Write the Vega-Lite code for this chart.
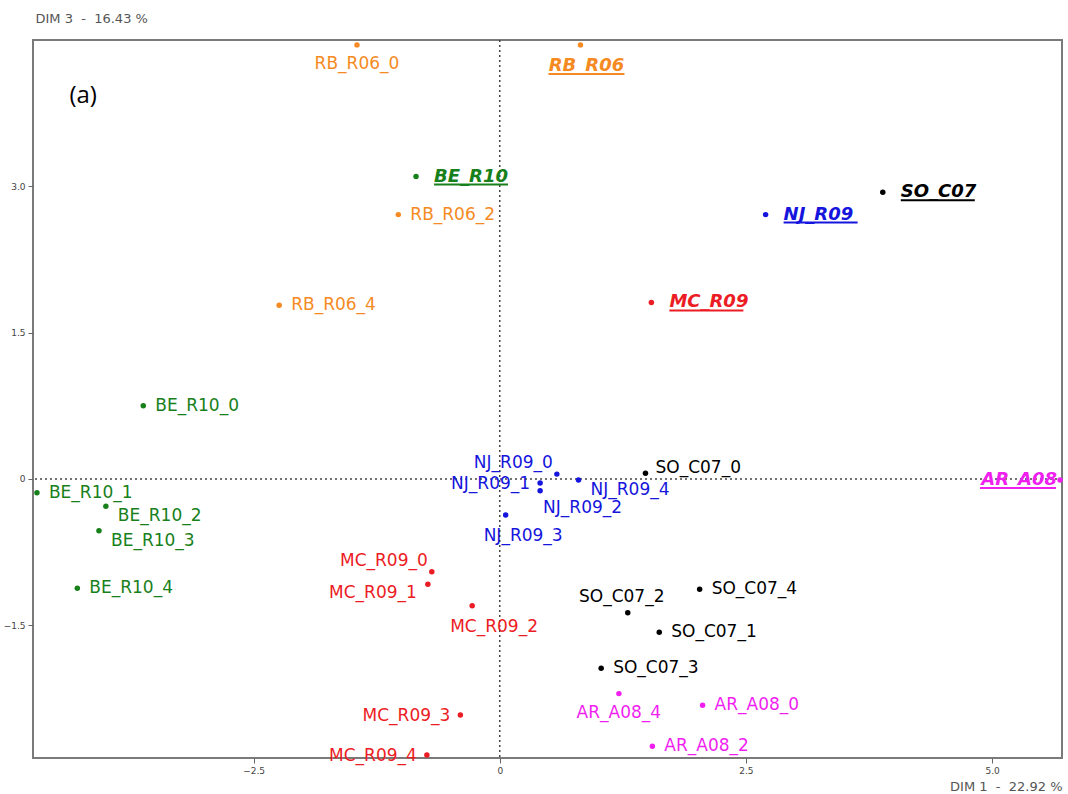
{
  "$schema": "https://vega.github.io/schema/vega-lite/v6.json",
  "width": 1029,
  "height": 718,
  "autosize": "none",
  "padding": {"left": 33, "top": 40, "right": 6, "bottom": 36},
  "background": "white",
  "config": {
    "font": "DejaVu Sans",
    "view": {"stroke": "#7a7a7a", "strokeWidth": 2}
  },
  "datasets": {
    "origin": [{"dim1": 0, "dim3": 0}],
    "panel": [{"label": "(a)", "dim1": -4.37, "dim3": 3.93}]
  },
  "data": {
    "values": [
      {"name": "RB_R06", "group": "RB_R06", "kind": "group", "dim1": 0.82, "dim3": 4.45},
      {"name": "RB_R06_0", "group": "RB_R06", "kind": "sample", "dim1": -1.45, "dim3": 4.45},
      {"name": "RB_R06_2", "group": "RB_R06", "kind": "sample", "dim1": -1.03, "dim3": 2.71},
      {"name": "RB_R06_4", "group": "RB_R06", "kind": "sample", "dim1": -2.24, "dim3": 1.78},
      {"name": "BE_R10", "group": "BE_R10", "kind": "group", "dim1": -0.85, "dim3": 3.10},
      {"name": "BE_R10_0", "group": "BE_R10", "kind": "sample", "dim1": -3.62, "dim3": 0.75},
      {"name": "BE_R10_1", "group": "BE_R10", "kind": "sample", "dim1": -4.70, "dim3": -0.14},
      {"name": "BE_R10_2", "group": "BE_R10", "kind": "sample", "dim1": -4.00, "dim3": -0.28},
      {"name": "BE_R10_3", "group": "BE_R10", "kind": "sample", "dim1": -4.07, "dim3": -0.53},
      {"name": "BE_R10_4", "group": "BE_R10", "kind": "sample", "dim1": -4.29, "dim3": -1.12},
      {"name": "SO_C07", "group": "SO_C07", "kind": "group", "dim1": 3.89, "dim3": 2.94},
      {"name": "SO_C07_0", "group": "SO_C07", "kind": "sample", "dim1": 1.48, "dim3": 0.06},
      {"name": "SO_C07_1", "group": "SO_C07", "kind": "sample", "dim1": 1.62, "dim3": -1.57},
      {"name": "SO_C07_2", "group": "SO_C07", "kind": "sample", "dim1": 1.30, "dim3": -1.37},
      {"name": "SO_C07_3", "group": "SO_C07", "kind": "sample", "dim1": 1.03, "dim3": -1.94},
      {"name": "SO_C07_4", "group": "SO_C07", "kind": "sample", "dim1": 2.03, "dim3": -1.13},
      {"name": "NJ_R09", "group": "NJ_R09", "kind": "group", "dim1": 2.70, "dim3": 2.71},
      {"name": "NJ_R09_0", "group": "NJ_R09", "kind": "sample", "dim1": 0.58, "dim3": 0.05},
      {"name": "NJ_R09_1", "group": "NJ_R09", "kind": "sample", "dim1": 0.41, "dim3": -0.04},
      {"name": "NJ_R09_2", "group": "NJ_R09", "kind": "sample", "dim1": 0.41, "dim3": -0.12},
      {"name": "NJ_R09_3", "group": "NJ_R09", "kind": "sample", "dim1": 0.06, "dim3": -0.37},
      {"name": "NJ_R09_4", "group": "NJ_R09", "kind": "sample", "dim1": 0.80, "dim3": -0.01},
      {"name": "MC_R09", "group": "MC_R09", "kind": "group", "dim1": 1.54, "dim3": 1.81},
      {"name": "MC_R09_0", "group": "MC_R09", "kind": "sample", "dim1": -0.69, "dim3": -0.95},
      {"name": "MC_R09_1", "group": "MC_R09", "kind": "sample", "dim1": -0.73, "dim3": -1.08},
      {"name": "MC_R09_2", "group": "MC_R09", "kind": "sample", "dim1": -0.28, "dim3": -1.30},
      {"name": "MC_R09_3", "group": "MC_R09", "kind": "sample", "dim1": -0.40, "dim3": -2.42},
      {"name": "MC_R09_4", "group": "MC_R09", "kind": "sample", "dim1": -0.74, "dim3": -2.83},
      {"name": "AR_A08", "group": "AR_A08", "kind": "group", "dim1": 5.69, "dim3": -0.01},
      {"name": "AR_A08_0", "group": "AR_A08", "kind": "sample", "dim1": 2.06, "dim3": -2.32},
      {"name": "AR_A08_2", "group": "AR_A08", "kind": "sample", "dim1": 1.55, "dim3": -2.74},
      {"name": "AR_A08_4", "group": "AR_A08", "kind": "sample", "dim1": 1.21, "dim3": -2.20}
    ]
  },
  "layer": [
    {
      "data": {"name": "origin"},
      "mark": {"type": "rule", "color": "#444444", "strokeDash": [2, 3], "strokeWidth": 1.5},
      "encoding": {
        "x": {
          "field": "dim1",
          "type": "quantitative",
          "title": "DIM 1\u00a0 -\u00a0 22.92 %",
          "scale": {"domain": [-4.74, 5.71], "nice": false, "zero": false},
          "axis": {
            "orient": "bottom",
            "values": [-2.5, 0, 2.5, 5],
            "labelExpr": "datum.value === 0 ? '0' : format(datum.value, '.1f')",
            "labelFontSize": 9,
            "labelColor": "#444444",
            "labelPadding": 3,
            "tickColor": "#666666",
            "tickSize": 5,
            "domain": false,
            "grid": false,
            "titleFontSize": 13,
            "titleFontWeight": "normal",
            "titleColor": "#555555",
            "titleAlign": "right",
            "titleBaseline": "alphabetic",
            "titleX": 1029,
            "titleY": 32
          }
        }
      }
    },
    {
      "data": {"name": "origin"},
      "mark": {"type": "rule", "color": "#444444", "strokeDash": [2, 3], "strokeWidth": 1.5},
      "encoding": {
        "y": {
          "field": "dim3",
          "type": "quantitative",
          "title": "DIM 3\u00a0 -\u00a0 16.43 %",
          "scale": {"domain": [-2.86, 4.5], "nice": false, "zero": false},
          "axis": {
            "orient": "left",
            "values": [-1.5, 0, 1.5, 3],
            "labelExpr": "datum.value === 0 ? '0' : format(datum.value, '.1f')",
            "labelFontSize": 9,
            "labelColor": "#444444",
            "labelPadding": 3,
            "tickColor": "#666666",
            "tickSize": 5,
            "domain": false,
            "grid": false,
            "titleFontSize": 13,
            "titleFontWeight": "normal",
            "titleColor": "#555555",
            "titleAngle": 0,
            "titleAlign": "left",
            "titleBaseline": "alphabetic",
            "titleX": 2,
            "titleY": -18
          }
        }
      }
    },
    {
      "mark": {"type": "circle", "size": 30, "opacity": 1},
      "encoding": {
        "x": {"field": "dim1", "type": "quantitative", "title": "DIM 1\u00a0 -\u00a0 22.92 %"},
        "y": {"field": "dim3", "type": "quantitative", "title": "DIM 3\u00a0 -\u00a0 16.43 %"},
        "color": {
          "field": "group",
          "type": "nominal",
          "scale": {
            "domain": ["BE_R10", "RB_R06", "NJ_R09", "MC_R09", "SO_C07", "AR_A08"],
            "range": ["#17801a", "#f58a23", "#1515dd", "#ec1c24", "#000000", "#f01ff0"]
          },
          "legend": null
        }
      }
    },
    {
      "transform": [{"filter": {"field": "name", "oneOf": ["BE_R10_0", "BE_R10_1", "BE_R10_4", "RB_R06_2", "RB_R06_4", "SO_C07_1", "SO_C07_3", "SO_C07_4", "AR_A08_0", "AR_A08_2"]}}],
      "mark": {"type": "text", "align": "left", "baseline": "middle", "dx": 12, "dy": 0, "fontSize": 17},
      "encoding": {
        "x": {"field": "dim1", "type": "quantitative", "title": "DIM 1\u00a0 -\u00a0 22.92 %"},
        "y": {"field": "dim3", "type": "quantitative", "title": "DIM 3\u00a0 -\u00a0 16.43 %"},
        "text": {"field": "name"},
        "color": {"field": "group", "type": "nominal", "legend": null}
      }
    },
    {
      "transform": [{"filter": {"field": "name", "oneOf": ["SO_C07_0"]}}],
      "mark": {"type": "text", "align": "left", "baseline": "middle", "dx": 10, "dy": -5, "fontSize": 17},
      "encoding": {
        "x": {"field": "dim1", "type": "quantitative", "title": "DIM 1\u00a0 -\u00a0 22.92 %"},
        "y": {"field": "dim3", "type": "quantitative", "title": "DIM 3\u00a0 -\u00a0 16.43 %"},
        "text": {"field": "name"},
        "color": {"field": "group", "type": "nominal", "legend": null}
      }
    },
    {
      "transform": [{"filter": {"field": "name", "oneOf": ["BE_R10_2", "BE_R10_3", "NJ_R09_4"]}}],
      "mark": {"type": "text", "align": "left", "baseline": "middle", "dx": 12, "dy": 10, "fontSize": 17},
      "encoding": {
        "x": {"field": "dim1", "type": "quantitative", "title": "DIM 1\u00a0 -\u00a0 22.92 %"},
        "y": {"field": "dim3", "type": "quantitative", "title": "DIM 3\u00a0 -\u00a0 16.43 %"},
        "text": {"field": "name"},
        "color": {"field": "group", "type": "nominal", "legend": null}
      }
    },
    {
      "transform": [{"filter": {"field": "name", "oneOf": ["RB_R06_0", "AR_A08_4"]}}],
      "mark": {"type": "text", "align": "center", "baseline": "middle", "dx": 0, "dy": 19, "fontSize": 17},
      "encoding": {
        "x": {"field": "dim1", "type": "quantitative", "title": "DIM 1\u00a0 -\u00a0 22.92 %"},
        "y": {"field": "dim3", "type": "quantitative", "title": "DIM 3\u00a0 -\u00a0 16.43 %"},
        "text": {"field": "name"},
        "color": {"field": "group", "type": "nominal", "legend": null}
      }
    },
    {
      "transform": [{"filter": {"field": "name", "oneOf": ["NJ_R09_3", "MC_R09_2"]}}],
      "mark": {"type": "text", "align": "left", "baseline": "middle", "dx": -22, "dy": 21, "fontSize": 17},
      "encoding": {
        "x": {"field": "dim1", "type": "quantitative", "title": "DIM 1\u00a0 -\u00a0 22.92 %"},
        "y": {"field": "dim3", "type": "quantitative", "title": "DIM 3\u00a0 -\u00a0 16.43 %"},
        "text": {"field": "name"},
        "color": {"field": "group", "type": "nominal", "legend": null}
      }
    },
    {
      "transform": [{"filter": {"field": "name", "oneOf": ["NJ_R09_2"]}}],
      "mark": {"type": "text", "align": "left", "baseline": "middle", "dx": 3, "dy": 17, "fontSize": 17},
      "encoding": {
        "x": {"field": "dim1", "type": "quantitative", "title": "DIM 1\u00a0 -\u00a0 22.92 %"},
        "y": {"field": "dim3", "type": "quantitative", "title": "DIM 3\u00a0 -\u00a0 16.43 %"},
        "text": {"field": "name"},
        "color": {"field": "group", "type": "nominal", "legend": null}
      }
    },
    {
      "transform": [{"filter": {"field": "name", "oneOf": ["NJ_R09_1", "MC_R09_3", "MC_R09_4"]}}],
      "mark": {"type": "text", "align": "right", "baseline": "middle", "dx": -10, "dy": 1, "fontSize": 17},
      "encoding": {
        "x": {"field": "dim1", "type": "quantitative", "title": "DIM 1\u00a0 -\u00a0 22.92 %"},
        "y": {"field": "dim3", "type": "quantitative", "title": "DIM 3\u00a0 -\u00a0 16.43 %"},
        "text": {"field": "name"},
        "color": {"field": "group", "type": "nominal", "legend": null}
      }
    },
    {
      "transform": [{"filter": {"field": "name", "oneOf": ["MC_R09_1"]}}],
      "mark": {"type": "text", "align": "right", "baseline": "middle", "dx": -11, "dy": 9, "fontSize": 17},
      "encoding": {
        "x": {"field": "dim1", "type": "quantitative", "title": "DIM 1\u00a0 -\u00a0 22.92 %"},
        "y": {"field": "dim3", "type": "quantitative", "title": "DIM 3\u00a0 -\u00a0 16.43 %"},
        "text": {"field": "name"},
        "color": {"field": "group", "type": "nominal", "legend": null}
      }
    },
    {
      "transform": [{"filter": {"field": "name", "oneOf": ["NJ_R09_0", "MC_R09_0"]}}],
      "mark": {"type": "text", "align": "right", "baseline": "middle", "dx": -4, "dy": -11, "fontSize": 17},
      "encoding": {
        "x": {"field": "dim1", "type": "quantitative", "title": "DIM 1\u00a0 -\u00a0 22.92 %"},
        "y": {"field": "dim3", "type": "quantitative", "title": "DIM 3\u00a0 -\u00a0 16.43 %"},
        "text": {"field": "name"},
        "color": {"field": "group", "type": "nominal", "legend": null}
      }
    },
    {
      "transform": [{"filter": {"field": "name", "oneOf": ["SO_C07_2"]}}],
      "mark": {"type": "text", "align": "center", "baseline": "middle", "dx": -6, "dy": -16, "fontSize": 17},
      "encoding": {
        "x": {"field": "dim1", "type": "quantitative", "title": "DIM 1\u00a0 -\u00a0 22.92 %"},
        "y": {"field": "dim3", "type": "quantitative", "title": "DIM 3\u00a0 -\u00a0 16.43 %"},
        "text": {"field": "name"},
        "color": {"field": "group", "type": "nominal", "legend": null}
      }
    },
    {
      "transform": [{"filter": {"field": "name", "oneOf": ["BE_R10", "SO_C07", "NJ_R09", "MC_R09"]}}],
      "mark": {"type": "text", "align": "left", "baseline": "middle", "dx": 18, "dy": 0, "fontSize": 18, "fontWeight": "bold", "fontStyle": "italic"},
      "encoding": {
        "x": {"field": "dim1", "type": "quantitative", "title": "DIM 1\u00a0 -\u00a0 22.92 %"},
        "y": {"field": "dim3", "type": "quantitative", "title": "DIM 3\u00a0 -\u00a0 16.43 %"},
        "text": {"field": "name"},
        "color": {"field": "group", "type": "nominal", "legend": null}
      }
    },
    {
      "transform": [{"filter": {"field": "name", "oneOf": ["BE_R10", "SO_C07", "NJ_R09", "MC_R09"]}}],
      "mark": {"type": "rule", "strokeWidth": 2, "xOffset": 18, "x2Offset": 92, "yOffset": 8},
      "encoding": {
        "x": {"field": "dim1", "type": "quantitative", "title": "DIM 1\u00a0 -\u00a0 22.92 %"},
        "x2": {"field": "dim1"},
        "y": {"field": "dim3", "type": "quantitative", "title": "DIM 3\u00a0 -\u00a0 16.43 %"},
        "color": {"field": "group", "type": "nominal", "legend": null}
      }
    },
    {
      "transform": [{"filter": {"field": "name", "oneOf": ["RB_R06"]}}],
      "mark": {"type": "text", "align": "center", "baseline": "middle", "dx": 6, "dy": 21, "fontSize": 18, "fontWeight": "bold", "fontStyle": "italic"},
      "encoding": {
        "x": {"field": "dim1", "type": "quantitative", "title": "DIM 1\u00a0 -\u00a0 22.92 %"},
        "y": {"field": "dim3", "type": "quantitative", "title": "DIM 3\u00a0 -\u00a0 16.43 %"},
        "text": {"field": "name"},
        "color": {"field": "group", "type": "nominal", "legend": null}
      }
    },
    {
      "transform": [{"filter": {"field": "name", "oneOf": ["RB_R06"]}}],
      "mark": {"type": "rule", "strokeWidth": 2, "xOffset": -32, "x2Offset": 44, "yOffset": 29},
      "encoding": {
        "x": {"field": "dim1", "type": "quantitative", "title": "DIM 1\u00a0 -\u00a0 22.92 %"},
        "x2": {"field": "dim1"},
        "y": {"field": "dim3", "type": "quantitative", "title": "DIM 3\u00a0 -\u00a0 16.43 %"},
        "color": {"field": "group", "type": "nominal", "legend": null}
      }
    },
    {
      "transform": [{"filter": {"field": "name", "oneOf": ["AR_A08"]}}],
      "mark": {"type": "text", "align": "right", "baseline": "middle", "dx": -3, "dy": 0, "fontSize": 18, "fontWeight": "bold", "fontStyle": "italic"},
      "encoding": {
        "x": {"field": "dim1", "type": "quantitative", "title": "DIM 1\u00a0 -\u00a0 22.92 %"},
        "y": {"field": "dim3", "type": "quantitative", "title": "DIM 3\u00a0 -\u00a0 16.43 %"},
        "text": {"field": "name"},
        "color": {"field": "group", "type": "nominal", "legend": null}
      }
    },
    {
      "transform": [{"filter": {"field": "name", "oneOf": ["AR_A08"]}}],
      "mark": {"type": "rule", "strokeWidth": 2, "xOffset": -80, "x2Offset": -4, "yOffset": 8},
      "encoding": {
        "x": {"field": "dim1", "type": "quantitative", "title": "DIM 1\u00a0 -\u00a0 22.92 %"},
        "x2": {"field": "dim1"},
        "y": {"field": "dim3", "type": "quantitative", "title": "DIM 3\u00a0 -\u00a0 16.43 %"},
        "color": {"field": "group", "type": "nominal", "legend": null}
      }
    },
    {
      "data": {"name": "panel"},
      "mark": {"type": "text", "align": "left", "baseline": "middle", "font": "Open Sans", "fontWeight": "normal", "fontSize": 24, "color": "#000000"},
      "encoding": {
        "x": {"field": "dim1", "type": "quantitative", "title": "DIM 1\u00a0 -\u00a0 22.92 %"},
        "y": {"field": "dim3", "type": "quantitative", "title": "DIM 3\u00a0 -\u00a0 16.43 %"},
        "text": {"field": "label"}
      }
    }
  ]
}
